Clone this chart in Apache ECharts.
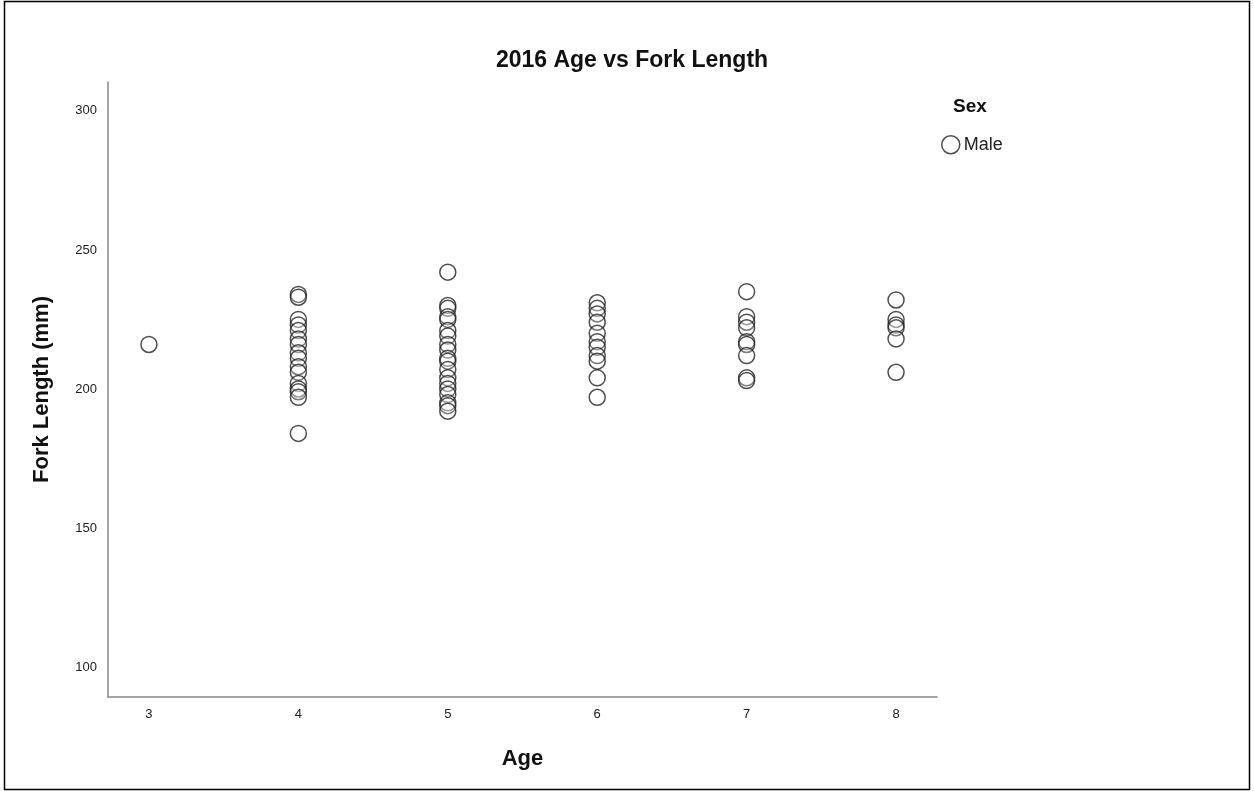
<!DOCTYPE html>
<html>
<head>
<meta charset="utf-8">
<script src="https://cdn.jsdelivr.net/npm/echarts@6/dist/echarts.min.js"></script>
<style>
html,body{margin:0;padding:0;background:#fff;}
#chart{width:1254px;height:792px;}
</style>
</head>
<body>
<div id="chart"></div>
<script>
const title = "2016 Age vs Fork Length";
const xName = "Age";
const yName = "Fork Length (mm)";
const legendTitle = "Sex";
const seriesName = "Male";
const xTicks = [3, 4, 5, 6, 7, 8];
const yTicks = [100, 150, 200, 250, 300];
const age3 = [216];
const age4 = [234, 233, 225, 223, 221, 218, 216, 213, 211, 208, 206, 202, 200, 199, 197, 184];
const age5 = [242, 230, 229, 226, 225, 221, 219, 216, 214, 211, 210, 207, 204, 202, 200, 198, 195, 194, 192];
const age6 = [231, 229, 227, 224, 220, 217, 215, 212, 210, 204, 197];
const age7 = [235, 226, 224, 222, 217, 216, 212, 204, 203];
const age8 = [232, 225, 223, 222, 218, 206];

const groups = [[3, age3], [4, age4], [5, age5], [6, age6], [7, age7], [8, age8]];
const points = [];
groups.forEach(([a, vals]) => vals.forEach(v => points.push([a, v])));

const chart = echarts.init(document.getElementById('chart'));
const font = 'Liberation Sans, Arial, sans-serif';
chart.setOption({
  backgroundColor: '#fff',
  animation: false,
  title: [
    {text: title, left: 627, top: 44, textAlign: 'center',
     textStyle: {fontFamily: font, fontSize: 23, fontWeight: 'bold', color: '#111'}},
    {text: legendTitle, left: 965, top: 92, textAlign: 'center',
     textStyle: {fontFamily: font, fontSize: 19, fontWeight: 'bold', color: '#111'}}
  ],
  legend: {
    left: 936, top: 130, itemWidth: 18, itemHeight: 18, itemGap: 4,
    icon: 'circle',
    textStyle: {fontFamily: font, fontSize: 18, color: '#222', padding: [0, 0, 0, -1]},
    data: [{name: seriesName, itemStyle: {color: '#fff', borderColor: '#222', borderWidth: 1.5}}]
  },
  grid: {left: 108, right: 317, top: 82, bottom: 95},
  xAxis: {
    type: 'value', min: 2.726, max: 8.274,
    name: xName, nameLocation: 'middle', nameGap: 51,
    nameTextStyle: {fontFamily: font, fontSize: 22, fontWeight: 'bold', color: '#111'},
    axisLine: {show: true, lineStyle: {color: '#888', width: 1.5}},
    axisTick: {show: false},
    splitLine: {show: false},
    axisLabel: {customValues: xTicks, fontFamily: font, fontSize: 13, color: '#222', margin: 11}
  },
  yAxis: {
    type: 'value', min: 89.2, max: 310.4,
    name: yName, nameLocation: 'middle', nameGap: 55, nameRotate: 90,
    nameTextStyle: {fontFamily: font, fontSize: 22, fontWeight: 'bold', color: '#111'},
    axisLine: {show: true, lineStyle: {color: '#888', width: 1.5}},
    axisTick: {show: false},
    splitLine: {show: false},
    axisLabel: {customValues: yTicks, fontFamily: font, fontSize: 13, color: '#222', margin: 11}
  },
  graphic: [{
    type: 'rect', silent: true, z: 100,
    shape: {x: 4.5, y: 1.5, width: 1245, height: 788},
    style: {fill: 'none', stroke: '#000', lineWidth: 1.5}
  }],
  series: [{
    name: seriesName, type: 'scatter', data: points,
    symbol: 'circle', symbolSize: 16,
    itemStyle: {color: 'rgba(255,255,255,0.3)', borderColor: '#222', borderWidth: 1.5}
  }]
});
</script>
</body>
</html>
